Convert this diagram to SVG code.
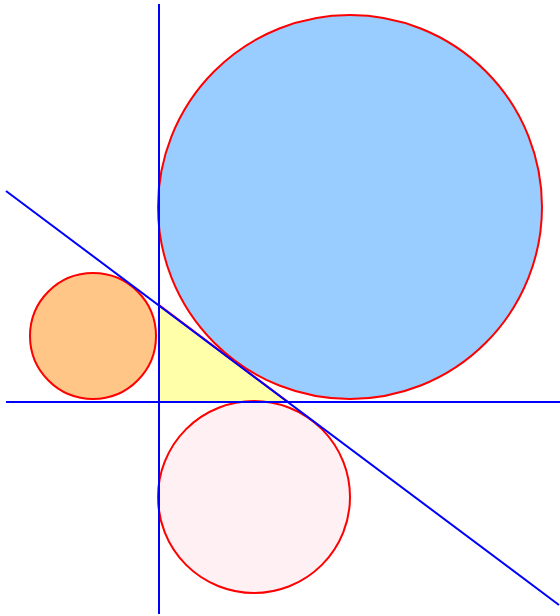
<svg xmlns="http://www.w3.org/2000/svg" width="560" height="616" viewBox="0 0 560 616">
<style>
.c{stroke:#ff0000;stroke-width:2}
.l{stroke:#0000ff;stroke-width:2;fill:none}
</style>
<rect width="560" height="616" fill="#ffffff"/>
<g id="circle-big"><circle class="c" cx="350" cy="207" r="192" fill="#99ccff"/></g>
<g id="circle-orange"><circle class="c" cx="93" cy="336" r="63" fill="#ffc687"/></g>
<g id="triangle"><polygon class="c" points="159,305 288,402 159,402" fill="#ffffaa"/></g>
<g id="circle-pink"><circle class="c" cx="254" cy="497" r="96" fill="#fff0f3"/></g>
<g id="connectors">
<line class="l" x1="159" y1="4" x2="159" y2="614"/>
<line class="l" x1="6" y1="402" x2="560" y2="402"/>
<line class="l" x1="6" y1="191" x2="559" y2="605"/>
</g>
</svg>
